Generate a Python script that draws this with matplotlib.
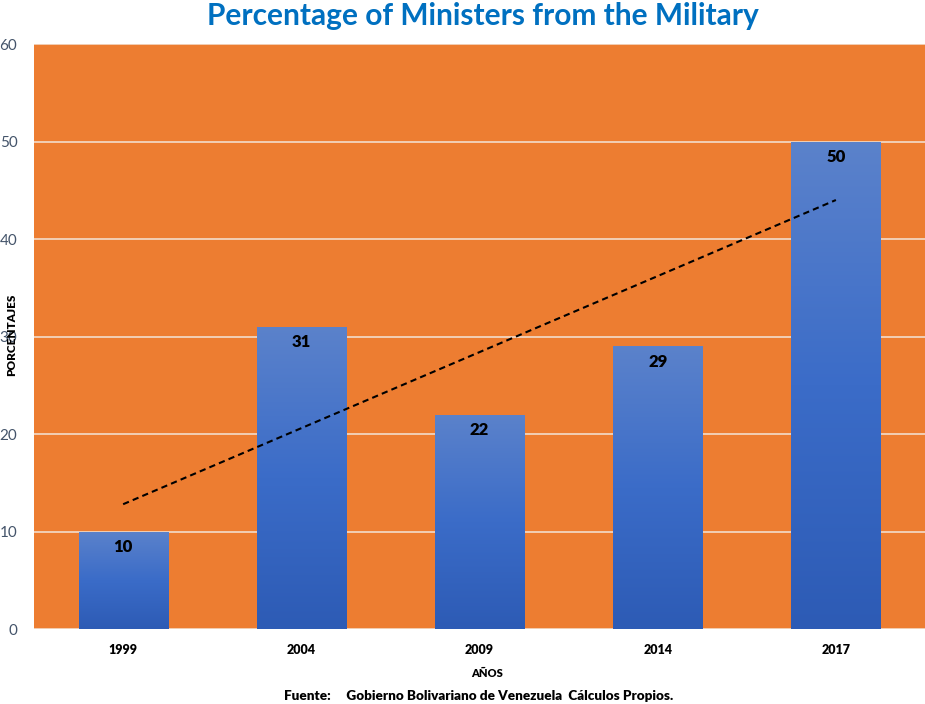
import numpy as np
import matplotlib.pyplot as plt
from matplotlib.colors import LinearSegmentedColormap

plt.rcParams['font.family'] = ['Lato', 'DejaVu Sans']

years = ['1999', '2004', '2009', '2014', '2017']
pct = [10, 31, 22, 29, 50]

fig = plt.figure(figsize=(9.25, 7.04), dpi=100)
ax = fig.add_axes([0.0368, 0.1065, 0.9632, 0.831])
ax.set_facecolor('#ED7D31')

x = np.arange(len(years))
bars = ax.bar(x, pct, width=0.5, color='none', zorder=2)

# vertical gradient in each bar, lighter at top
cmap = LinearSegmentedColormap.from_list('blu', ['#2D5BB5', '#3B6CC8', '#5B82CB'])
grad = np.linspace(0, 1, 256).reshape(-1, 1)
for b in bars:
    x0, w, h = b.get_x(), b.get_width(), b.get_height()
    im = ax.imshow(grad, cmap=cmap, origin='lower', aspect='auto',
                   extent=[x0, x0 + w, 0, h], zorder=2)
    im.set_clip_path(b)

for xi, v in zip(x, pct):
    ax.text(xi, v - 1.6, str(v), ha='center', va='center',
            fontsize=12, fontweight='heavy', color='black', zorder=4)

# linear trend line
k, c = np.polyfit(x, pct, 1)
ax.plot(x[[0, -1]], k * x[[0, -1]] + c, ls=(0, (3, 2)), color='black', lw=1.5, zorder=3)

ax.set_xlim(-0.5, 4.5)
ax.set_ylim(0, 60)
ax.set_yticks(range(0, 61, 10))
ax.yaxis.grid(True, color='#F2DCCB', lw=1.2, zorder=1)
ax.set_axisbelow(True)
ax.set_xticks(x)
ax.set_xticklabels(years, fontsize=9, fontweight='heavy')
ax.tick_params(axis='y', labelsize=11, labelcolor='#44546A', length=0, pad=12)
ax.tick_params(axis='x', length=0, pad=11)
for s in ax.spines.values():
    s.set_visible(False)

fig.text(0.522, 0.977, 'Percentage of Ministers from the Military', ha='center', va='center',
         fontsize=21.5, fontweight='bold', color='#0070C0')
fig.text(0.013, 0.524, 'PORCENTAJES', rotation=90, ha='center', va='center',
         fontsize=8.5, fontweight='heavy')
fig.text(0.527, 0.043, 'AÑOS', ha='center', va='center', fontsize=8, fontweight='heavy')
fig.text(0.517, 0.012, 'Fuente:     Gobierno Bolivariano de Venezuela  Cálculos Propios.',
         ha='center', va='center', fontsize=9.7, fontweight='heavy')

fig.savefig('out.png', dpi=100)
